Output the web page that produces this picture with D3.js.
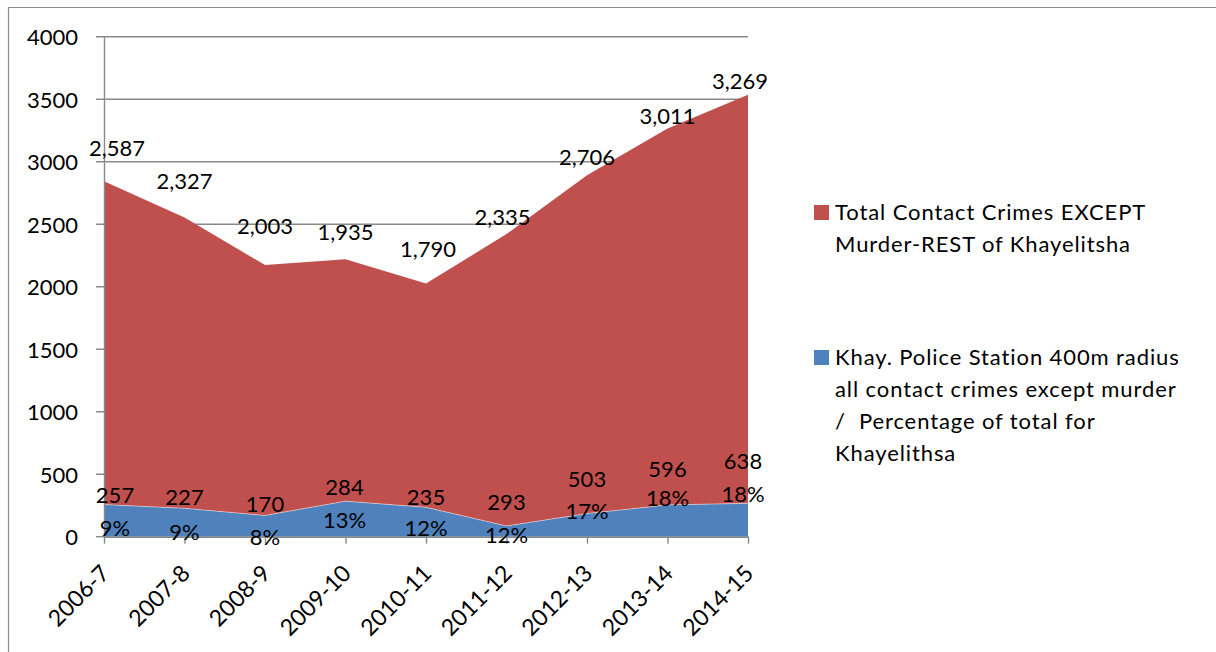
<!DOCTYPE html>
<html>
<head>
<meta charset="utf-8">
<script src="https://cdn.jsdelivr.net/npm/d3@7"></script>
<style>
  html, body { margin: 0; padding: 0; background: #fff; }
  svg { display: block; font-family: Lato, "Open Sans", sans-serif; }
  .legend-text { white-space: pre; }
</style>
</head>
<body>
<svg id="chart" width="1216" height="652"></svg>
<script>
// Financial years on the category axis
const categories = ['2006-7', '2007-8', '2008-9', '2009-10', '2010-11', '2011-12', '2012-13', '2013-14', '2014-15'];

// Contact crimes except murder, rest of Khayelitsha (upper stacked band)
const restOfKhayelitsha = [2587, 2327, 2003, 1935, 1790, 2335, 2706, 3011, 3269];

// Khayelitsha police station 400m radius band (lower stacked band, as plotted)
const stationRadius = [257, 227, 170, 284, 235, 86, 185, 254, 267];

// Text shown on the lower band: counts and share of the Khayelitsha total
const stationCountText = ['257', '227', '170', '284', '235', '293', '503', '596', '638'];
const stationShareText = ['9%', '9%', '8%', '13%', '12%', '12%', '17%', '18%', '18%'];

// Value axis ticks
const yTicks = [0, 500, 1000, 1500, 2000, 2500, 3000, 3500, 4000];

const legendEntries = [
  { key: 'rest', color: '#C0504D',
    lines: ['Total Contact Crimes EXCEPT', 'Murder-REST of Khayelitsha'] },
  { key: 'station', color: '#4F81BD',
    lines: ['Khay. Police Station 400m radius', 'all contact crimes except murder', '/  Percentage of total for', 'Khayelithsa'] }
];

const svg = d3.select('#chart');
const gridColor = '#898989';
const fontSize = 22;

// Chart frame
svg.append('path')
  .attr('d', 'M8.5,652 V7.5 H1216')
  .attr('fill', 'none')
  .attr('stroke', '#8c8c8c')
  .attr('stroke-width', 1.2);

const x = d3.scalePoint().domain(categories).range([104, 748]);
const y = d3.scaleLinear().domain([0, 4000]).range([536.7, 36.7]);

// Horizontal gridlines (extend left to form the tick marks)
svg.append('g')
  .selectAll('line')
  .data(yTicks.filter(d => d > 0))
  .join('line')
  .attr('x1', 96).attr('x2', 748)
  .attr('y1', d => y(d)).attr('y2', d => y(d))
  .attr('stroke', gridColor)
  .attr('stroke-width', 1.4);

// Stacked areas
const rows = categories.map((c, i) => ({ cat: c, station: stationRadius[i], rest: restOfKhayelitsha[i] }));
const stacked = d3.stack().keys(['station', 'rest'])(rows);
const colorOf = { station: '#4F81BD', rest: '#C0504D' };

const area = d3.area()
  .x(d => x(d.data.cat))
  .y0(d => y(d[0]))
  .y1(d => y(d[1]));

svg.append('g')
  .selectAll('path')
  .data(stacked)
  .join('path')
  .attr('d', area)
  .attr('fill', d => colorOf[d.key]);

// Thin light seam on top of the lower band
svg.append('path')
  .datum(stacked[0])
  .attr('d', d3.line().x(d => x(d.data.cat)).y(d => y(d[1])))
  .attr('fill', 'none')
  .attr('stroke', 'rgba(255,255,255,0.45)')
  .attr('stroke-width', 1);

// Value axis
const yAxis = d3.axisLeft(y).tickValues(yTicks).tickSize(0).tickFormat(d3.format('d'));
const yg = svg.append('g').attr('transform', 'translate(104,0)').call(yAxis);
yg.select('.domain').attr('stroke', gridColor).attr('stroke-width', 1.4);
yg.selectAll('text')
  .attr('font-family', 'Lato, sans-serif')
  .attr('font-size', fontSize)
  .attr('fill', '#000')
  .attr('x', -26)
  .attr('dy', '0.36em');
// y tick mark at zero
svg.append('line')
  .attr('x1', 96).attr('x2', 104)
  .attr('y1', y(0)).attr('y2', y(0))
  .attr('stroke', gridColor).attr('stroke-width', 1.4);

// Category axis
const xAxis = d3.axisBottom(x).tickSize(7).tickSizeOuter(0).tickFormat('');
const xg = svg.append('g').attr('transform', `translate(0,${y(0)})`).call(xAxis);
xg.select('.domain').attr('stroke', gridColor).attr('stroke-width', 1.4);
xg.selectAll('.tick line').attr('stroke', gridColor).attr('stroke-width', 1.4);

svg.append('g')
  .selectAll('text')
  .data(categories)
  .join('text')
  .attr('transform', d => `translate(${x(d) + 7},${y(0) + 38}) rotate(-45)`)
  .attr('text-anchor', 'end')
  .attr('font-size', 23)
  .attr('fill', '#000')
  .text(d => d);

// Labels on the upper band, offset from the stacked top (pixels)
const restLabelNudge = [[13, -33], [0, -36.5], [0, -39], [0, -27], [2, -34], [-4, -17], [0, -18], [0, -12], [-8, -14]];
const fmt = d3.format(',');
svg.append('g')
  .selectAll('text')
  .data(stacked[1])
  .join('text')
  .attr('x', (d, i) => x(d.data.cat) + restLabelNudge[i][0])
  .attr('y', (d, i) => y(d[1]) + restLabelNudge[i][1])
  .attr('dy', '0.36em')
  .attr('text-anchor', 'middle')
  .attr('font-size', fontSize)
  .attr('fill', '#000')
  .text(d => fmt(d.data.rest));

// Labels on the lower band: count line and share line, offset from its top
const stationLabelNudge = [[11, -9.6, 23.4], [0, -11.3, 23.7], [0, -11.5, 21.5], [-1, -14.2, 18.8], [0, -10.3, 20.7],
                           [0, -24, 9], [0, -34.6, -2.6], [0, -36, -7], [-5, -42.3, -9.3]];
const stationLabels = svg.append('g')
  .selectAll('g')
  .data(stacked[0])
  .join('g')
  .attr('transform', (d, i) => `translate(${x(d.data.cat) + stationLabelNudge[i][0]},${y(d[1])})`);
stationLabels.append('text')
  .attr('y', (d, i) => stationLabelNudge[i][1])
  .attr('dy', '0.36em')
  .attr('text-anchor', 'middle')
  .attr('font-size', fontSize)
  .attr('fill', '#000')
  .text((d, i) => stationCountText[i]);
stationLabels.append('text')
  .attr('y', (d, i) => stationLabelNudge[i][2])
  .attr('dy', '0.36em')
  .attr('text-anchor', 'middle')
  .attr('font-size', fontSize)
  .attr('fill', '#000')
  .text((d, i) => stationShareText[i]);

// Legend
const legendTop = { rest: 205, station: 350 };
const legend = svg.append('g')
  .selectAll('g')
  .data(legendEntries)
  .join('g')
  .attr('transform', d => `translate(814,${legendTop[d.key]})`);
legend.append('rect')
  .attr('width', 15).attr('height', 15)
  .attr('fill', d => d.color);
legend.append('text')
  .attr('class', 'legend-text')
  .attr('font-size', fontSize)
  .attr('letter-spacing', 0.9)
  .attr('fill', '#000')
  .selectAll('tspan')
  .data(d => d.lines)
  .join('tspan')
  .attr('x', 21)
  .attr('y', (d, i) => 7.5 + i * 31.7)
  .attr('dy', '0.36em')
  .text(d => d);
</script>
</body>
</html>
